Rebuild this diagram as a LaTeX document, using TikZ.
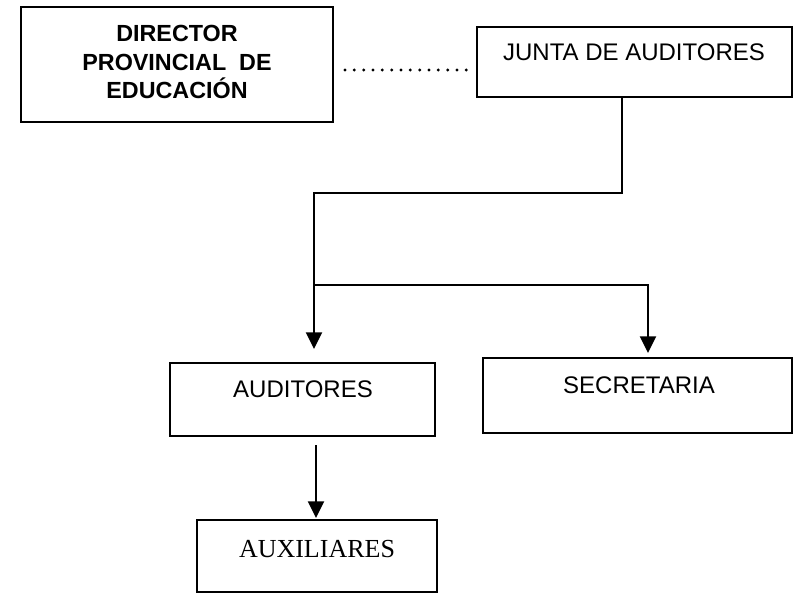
\documentclass[tikz,border=0pt]{standalone}
\usepackage{fontspec}
\setmainfont{Liberation Sans}
\newfontfamily\timesfont{Liberation Serif}
\usetikzlibrary{arrows.meta,fit}
\tikzset{
  box/.style={draw=black, line width=1.7pt, inner sep=0pt, rectangle},
  conn/.style={draw=black, line width=1.6pt},
  arr/.style={conn, -{Triangle[width=12pt,length=12.5pt]}},
  dotline/.style={draw=black, line width=2.4pt, line cap=round, dash pattern=on 0pt off 7pt},
  lbl/.style={inner sep=0pt, font=\fontsize{18}{21}\selectfont, anchor=base},
}
\begin{document}
\begin{tikzpicture}[x=0.75pt,y=-0.75pt]
\useasboundingbox (0,0) rectangle (794,594);
% boxes
\node[box, fit={(21,7) (333,122)}] (dir) {};
\node[box, fit={(477,27) (792,97)}] (junta) {};
\node[box, fit={(170,363) (435,436)}] (aud) {};
\node[box, fit={(483,358) (792,433)}] (sec) {};
\node[box, fit={(197,520) (437,592)}] (aux) {};
% texts
\node[inner sep=0pt, align=center, font=\bfseries\fontsize{17.5}{21.4}\selectfont] (dirT) at (177,62) {DIRECTOR\\PROVINCIAL\ \ DE\\EDUCACIÓN};
\node[lbl] (juntaT) at (634,60) {JUNTA DE AUDITORES};
\node[lbl] (audT) at (303,397) {AUDITORES};
\node[lbl] (secT) at (639,393) {SECRETARIA};
\node[inner sep=0pt, anchor=base, font=\timesfont\fontsize{19.5}{22}\selectfont] (auxT) at (317,557) {AUXILIARES};
% connector coordinates
\coordinate (d1) at (345,70);
\coordinate (d2) at (471,70);
\coordinate (j0) at (622,97);
\coordinate (j1) at (622,193);
\coordinate (j2) at (314,193);
\coordinate (j3) at (314,285);
\coordinate (a1) at (314,349);
\coordinate (s0) at (648,285);
\coordinate (s1) at (648,353);
\coordinate (x0) at (316,445);
\coordinate (x1) at (316,518);
% connectors
\draw[dotline] (d1) -- (d2);
\draw[conn] (j0) -- (j1) -- (j2) -- (j3);
\draw[arr] (j3) -- (a1);
\draw[arr] (j3) -- (s0) -- (s1);
\draw[arr] (x0) -- (x1);
\end{tikzpicture}
\end{document}
